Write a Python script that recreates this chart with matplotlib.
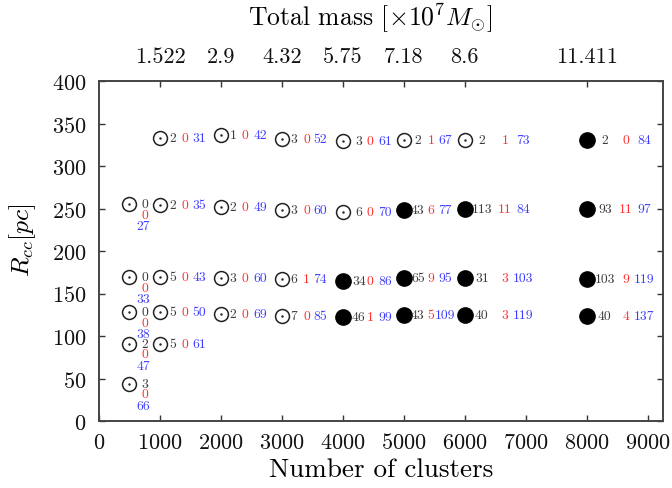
import matplotlib
matplotlib.use("Agg")
import matplotlib.pyplot as plt

plt.rcParams['font.family'] = ['cmr10', 'DejaVu Serif']
plt.rcParams['mathtext.fontset'] = 'cm'
plt.rcParams['axes.unicode_minus'] = False
plt.rcParams['axes.formatter.use_mathtext'] = True

# ---- data ----
n_clusters = [500, 500, 500, 500, 500,
              1000, 1000, 1000, 1000, 1000,
              2000, 2000, 2000, 2000,
              3000, 3000, 3000, 3000,
              4000, 4000, 4000, 4000,
              5000, 5000, 5000, 5000,
              6000, 6000, 6000, 6000,
              8000, 8000, 8000, 8000]
r_cc = [255, 169, 128, 91, 44,
        333, 254, 169, 128, 91,
        336, 252, 168, 126,
        332, 248, 167, 124,
        329, 246, 165, 122,
        331, 248, 168, 125,
        331, 250, 168, 125,
        331, 249, 167, 124]
merged = [0, 0, 0, 0, 0,
          0, 0, 0, 0, 0,
          0, 0, 0, 0,
          0, 0, 0, 0,
          0, 0, 1, 1,
          0, 1, 1, 1,
          0, 1, 1, 1,
          1, 1, 1, 1]
n_black = [0, 0, 0, 2, 3,
           2, 2, 5, 5, 5,
           1, 2, 3, 2,
           3, 3, 6, 7,
           3, 6, 34, 46,
           2, 43, 65, 43,
           2, 113, 31, 40,
           2, 93, 103, 40]
n_red = [0, 0, 0, 0, 0,
         0, 0, 0, 0, 0,
         0, 0, 0, 0,
         0, 0, 1, 0,
         0, 0, 0, 1,
         1, 6, 9, 5,
         1, 11, 3, 3,
         0, 11, 9, 4]
n_blue = [27, 33, 38, 47, 66,
          31, 35, 43, 50, 61,
          42, 49, 60, 69,
          52, 60, 74, 85,
          61, 70, 86, 99,
          67, 77, 95, 109,
          73, 84, 103, 119,
          84, 97, 119, 137]

top_tick_pos = [1000, 2000, 3000, 4000, 5000, 6000, 8000]
top_tick_labels = ['1.522', '2.9', '4.32', '5.75', '7.18', '8.6', '11.411']

# ---- layout (label offsets in pixels: black, red, blue centres) ----
col_offsets = {1000: (13, 25, 39), 2000: (12, 24, 39), 3000: (12, 24.5, 38.5),
               4000: (16, 27, 42), 5000: (14, 27, 41), 6000: (17, 40, 58),
               8000: (18, 39, 57)}
stack_offsets = ((15, 0), (15, -10.5), (14, -22))

c_black = '#3a3a3a'
c_red = '#ff3030'
c_blue = '#3c3cff'
c_edge = '#222222'

fig = plt.figure(figsize=(6.72, 4.89), dpi=100)
ax = fig.add_axes([99/672, 1 - 422/489, (663-99)/672, (422-82)/489])

for x, y, m, b, r, bl in zip(n_clusters, r_cc, merged, n_black, n_red, n_blue):
    if m:
        ax.plot(x, y, 'o', ms=11, mfc='black', mec='black', zorder=3)
    else:
        ax.plot(x, y, 'o', ms=10, mfc='none', mec=c_edge, mew=1.1, zorder=3)
        ax.plot(x, y, '.', ms=1.5, color=c_edge, zorder=3)
    fs = 9.8
    if x in col_offsets:
        ob, orr, obl = col_offsets[x]
        for val, dx, col in ((b, ob, c_black), (r, orr, c_red), (bl, obl, c_blue)):
            ax.annotate(str(val), (x, y), xytext=(dx, 0), textcoords='offset pixels',
                        ha='center', va='center', fontsize=fs, color=col)
    else:
        for val, (dx, dy), col in zip((b, r, bl), stack_offsets, (c_black, c_red, c_blue)):
            ax.annotate(str(val), (x, y), xytext=(dx, dy), textcoords='offset pixels',
                        ha='center', va='center', fontsize=fs, color=col)

ax.set_xlim(0, 9250)
ax.set_ylim(0, 400)
ax.set_xticks(range(0, 9001, 1000))
ax.set_yticks(range(0, 401, 50))
ax.tick_params(axis='x', direction='in', length=4.5, width=1, labelsize=16,
               colors='#333333', labelcolor='#111111', pad=8)
ax.tick_params(axis='y', direction='in', length=4.5, width=1, labelsize=16,
               colors='#333333', labelcolor='#111111', right=True, pad=9)
for s in ax.spines.values():
    s.set_color('#444444')
    s.set_linewidth(1.2)
ax.set_xlabel('Number of clusters', fontsize=19.5, labelpad=4)
ax.set_ylabel(r'$R_{cc}[pc]$', fontsize=18.5)
ax.yaxis.label.set_va('center')
ax.yaxis.set_label_coords(-0.135, 0.535)

ax2 = ax.twiny()
ax2.set_xlim(ax.get_xlim())
ax2.set_xticks(top_tick_pos)
ax2.set_xticklabels(top_tick_labels)
ax2.tick_params(direction='in', length=4.5, width=1, labelsize=16, colors='#333333',
                labelcolor='#111111', pad=11)
for s in ax2.spines.values():
    s.set_color('#444444')
    s.set_linewidth(1.2)
ax2.set_xlabel(r'Total mass $[\times 10^7 M_{\odot}]$', fontsize=18.5)
ax2.xaxis.label.set_va('bottom')
ax2.xaxis.set_label_coords(0.48, 1.0 + 47/340)

fig.savefig('out.png', dpi=100)
